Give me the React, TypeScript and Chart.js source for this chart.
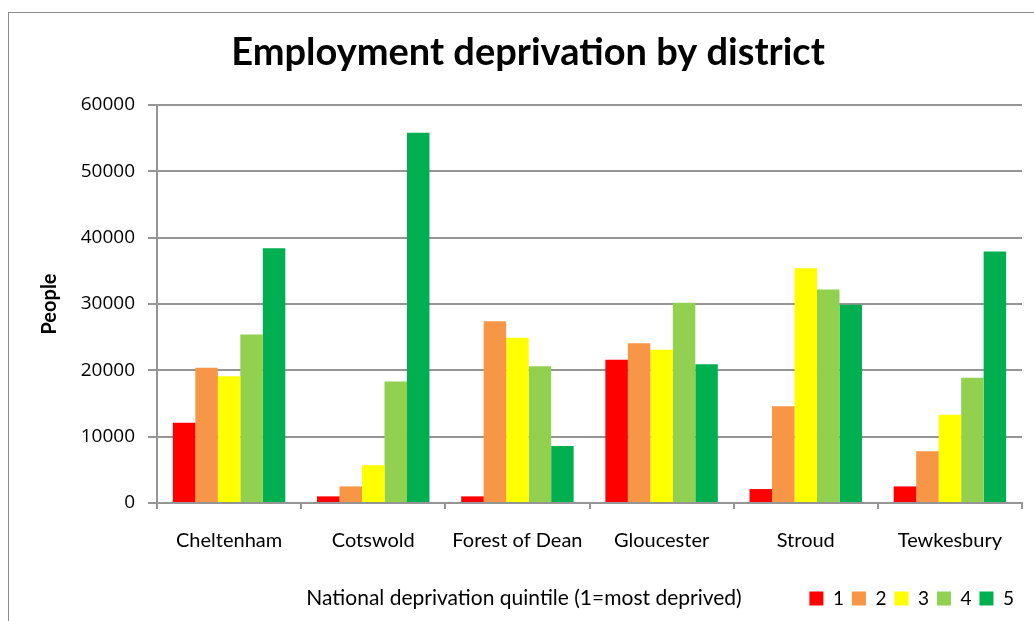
import React, { useEffect, useRef } from "react";
import { Chart, registerables } from "chart.js";

Chart.register(...registerables);

const districts = ["Cheltenham", "Cotswold", "Forest of Dean", "Gloucester", "Stroud", "Tewkesbury"];
const quintileLabels = ["1", "2", "3", "4", "5"];
const q1 = [12100, 1000, 1000, 21600, 2100, 2500];
const q2 = [20400, 2500, 27400, 24100, 14600, 7800];
const q3 = [19100, 5700, 24900, 23100, 35400, 13300];
const q4 = [25400, 18300, 20600, 30200, 32200, 18900];
const q5 = [38400, 55800, 8600, 20900, 29900, 37900];
const seriesValues = [q1, q2, q3, q4, q5];
const seriesColors = ["#FF0000", "#F79646", "#FFFF00", "#92D050", "#00B050"];

const chartTitle = "Employment deprivation by district";
const xTitle = "National deprivation quintile (1=most deprived)";
const yTitle = "People";

const FONT = "Lato, 'Open Sans', sans-serif";
const NUMFONT = "'Open Sans', Lato, sans-serif";
const GRID = "#959595";

const xTitlePlugin = {
  id: "xTitleInLegendRow",
  afterDraw(chart: any) {
    const legend = chart.legend;
    if (!legend || !legend.legendHitBoxes || !legend.legendHitBoxes.length) return;
    const hb = legend.legendHitBoxes[0];
    const y = hb.top + hb.height / 2;
    const ctx = chart.ctx;
    ctx.save();
    ctx.font = `21px ${FONT}`;
    ctx.fillStyle = "#000";
    ctx.textAlign = "center";
    ctx.textBaseline = "middle";
    ctx.fillText(xTitle, 515, y);
    ctx.restore();
  },
};

export default function App() {
  const ref = useRef<HTMLCanvasElement>(null);
  useEffect(() => {
    document.body.style.margin = "0";
    if (!ref.current) return;
    const chart = new Chart(ref.current, {
      type: "bar",
      data: {
        labels: districts,
        datasets: seriesValues.map((vals, i) => ({
          label: quintileLabels[i],
          data: vals,
          backgroundColor: seriesColors[i],
          borderWidth: 0,
          categoryPercentage: 0.78,
          barPercentage: 1,
        })),
      },
      options: {
        responsive: false,
        animation: false,
        layout: { padding: { left: 25, right: 10, top: 0, bottom: 3 } },
        plugins: {
          title: {
            display: true,
            text: chartTitle,
            color: "#000",
            font: { family: FONT, size: 38, weight: "bold", lineHeight: 1.2 },
            padding: { top: 17, bottom: 29.4 },
          },
          legend: {
            display: true,
            position: "bottom",
            align: "end",
            labels: {
              boxWidth: 14,
              boxHeight: 14,
              padding: 8,
              color: "#000",
              font: { family: FONT, size: 19 },
            },
          },
          tooltip: { enabled: false },
        },
        scales: {
          x: {
            grid: {
              display: true,
              drawOnChartArea: false,
              drawTicks: true,
              tickLength: 6,
              color: GRID,
              lineWidth: 2,
              offset: true,
            },
            border: { display: true, color: GRID, width: 2 },
            ticks: {
              color: "#000",
              padding: 20,
              font: { family: FONT, size: 20 },
              maxRotation: 0,
              autoSkip: false,
            },
            afterFit(scale: any) {
              scale.height = 78;
            },
          },
          y: {
            min: 0,
            max: 60000,
            grid: {
              display: true,
              drawTicks: true,
              tickLength: 9,
              color: GRID,
              lineWidth: 2,
            },
            border: { display: true, color: GRID, width: 2 },
            ticks: {
              stepSize: 10000,
              color: "#000",
              padding: 13,
              font: { family: NUMFONT, size: 19 },
              callback: (v: any) => String(v),
            },
            title: {
              display: true,
              text: yTitle,
              color: "#000",
              font: { family: FONT, size: 20, weight: "bold", lineHeight: 1.2 },
              padding: 4,
            },
            afterFit(scale: any) {
              scale.width = 123;
            },
          },
        },
      },
      plugins: [xTitlePlugin],
    });
    return () => chart.destroy();
  }, []);

  return (
    <div style={{ position: "relative", width: 1034, height: 621, overflow: "hidden", background: "#fff" }}>
      <div
        style={{
          position: "absolute",
          left: 8,
          top: 12,
          width: 1026,
          height: 609,
          boxSizing: "border-box",
          borderLeft: "1px solid #8c8c8c",
          borderTop: "1px solid #8c8c8c",
        }}
      >
        <canvas ref={ref} width={1023} height={608} style={{ display: "block" }} />
      </div>
    </div>
  );
}
